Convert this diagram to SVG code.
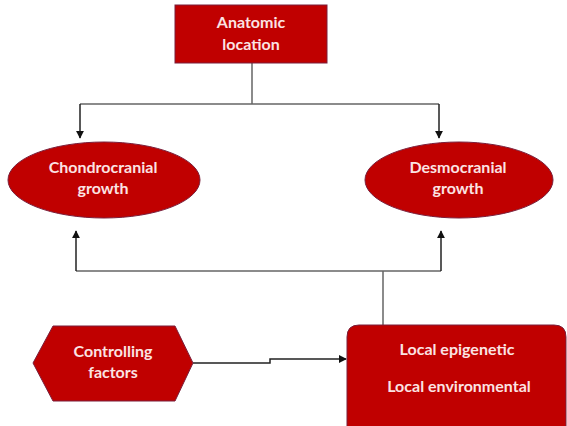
<svg xmlns="http://www.w3.org/2000/svg" width="567" height="426" viewBox="0 0 567 426">
<style>
.node{fill:#C00000;stroke:#7A1E3A;stroke-width:1}
.lbl{font-family:Lato,"Open Sans","Liberation Sans",sans-serif;font-weight:bold;font-size:16px;fill:#FBE3E3;text-anchor:middle}
.conn{fill:none;stroke:#666;stroke-width:1.5}
.arr{fill:none;stroke:#222;stroke-width:1.5;marker-end:url(#ah)}
</style>
<defs>
<marker id="ah" viewBox="0 0 10 10" refX="9" refY="5" markerWidth="5.5" markerHeight="5.5" orient="auto" markerUnits="strokeWidth">
<path d="M0,0 L10,5 L0,10 z" fill="#111"/>
</marker>
</defs>
<rect width="567" height="426" fill="#fff"/>
<g id="connectors">
<path class="conn" d="M252,63 V104 M80,104 H439 M76,271 H441 M383,271 V325"/>
<path class="arr" d="M80,104 V138"/>
<path class="arr" d="M439,104 V138"/>
<path class="arr" d="M76,271 V231"/>
<path class="arr" d="M441,271 V231"/>
<path class="arr" d="M193,363 H270 V359 H346"/>
</g>
<g id="anatomic">
<rect class="node" x="175" y="5" width="152" height="58"/>
<text class="lbl" x="251" y="28">Anatomic</text>
<text class="lbl" x="251" y="50">location</text>
</g>
<g id="chondro">
<ellipse class="node" cx="104" cy="180" rx="96" ry="38"/>
<text class="lbl" x="103" y="173">Chondrocranial</text>
<text class="lbl" x="103" y="194">growth</text>
</g>
<g id="desmo">
<ellipse class="node" cx="459" cy="180" rx="94" ry="38"/>
<text class="lbl" x="458" y="173">Desmocranial</text>
<text class="lbl" x="458" y="194">growth</text>
</g>
<g id="controlling">
<polygon class="node" points="33,363 53,326 175,326 193,363 175,401 53,401"/>
<text class="lbl" x="113" y="357">Controlling</text>
<text class="lbl" x="113" y="378">factors</text>
</g>
<g id="local">
<path class="node" d="M347,437 V337 Q347,325 359,325 H554 Q566,325 566,337 V437 Z"/>
<text class="lbl" x="457" y="355">Local epigenetic</text>
<text class="lbl" x="459" y="392">Local environmental</text>
</g>
</svg>
